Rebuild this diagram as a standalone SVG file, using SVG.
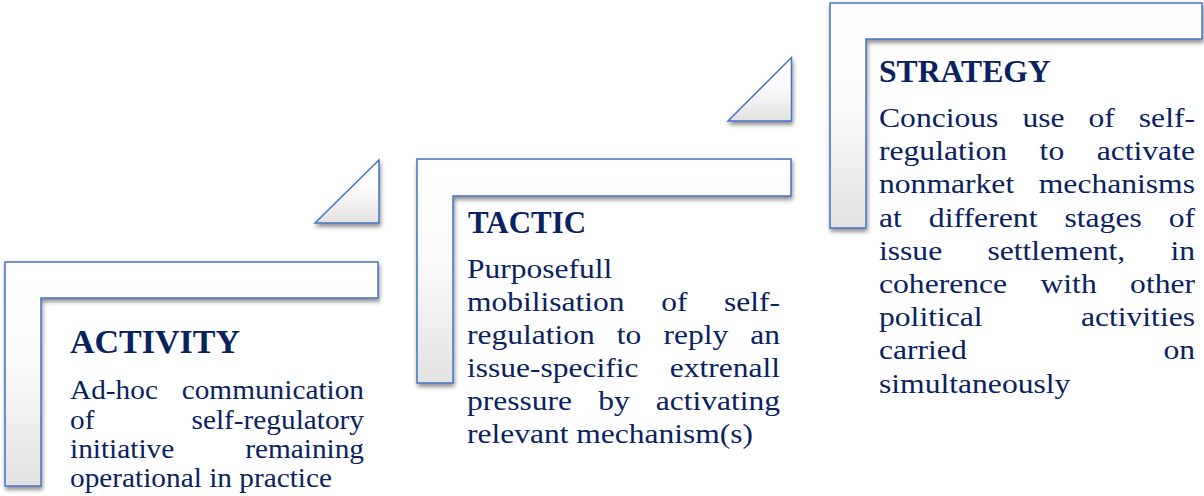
<svg xmlns="http://www.w3.org/2000/svg" width="1204" height="496" viewBox="0 0 1204 496">
<style>
.shape{fill:url(#g);stroke:#4472c4;stroke-width:1.5;filter:url(#sh)}
.t{font-weight:bold;fill:#0a2260}
.b{fill:#0a2260;font-size:28px}
.ba{font-size:26.5px}
</style>
<defs>
<linearGradient id="g" x1="0" y1="0" x2="0" y2="1">
<stop offset="0" stop-color="#ffffff"/>
<stop offset="0.45" stop-color="#fbfbfb"/>
<stop offset="1" stop-color="#e2e2e2"/>
</linearGradient>
<filter id="sh" x="-10%" y="-10%" width="130%" height="130%">
<feDropShadow dx="1" dy="3" stdDeviation="2" flood-color="#000" flood-opacity="0.45"/>
</filter>
</defs>
<rect width="1204" height="496" fill="#ffffff"/>
<g id="connectors">
<polygon class="shape" points="315,223 379,160 379,223"/>
<polygon class="shape" points="728,121 791.5,57.5 791.5,121"/>
</g>
<g font-family="'Liberation Serif', 'Times New Roman', serif">
<g id="activity">
<path class="shape" d="M5,262 H378 V298 H41 V486 H5 Z"/>
<text class="t" x="70" y="352.5" font-size="34" textLength="170" lengthAdjust="spacingAndGlyphs">ACTIVITY</text>
<g class="b ba">
<text x="70" y="399" textLength="87.9" lengthAdjust="spacingAndGlyphs">Ad-hoc</text>
<text x="181.7" y="399" textLength="182.3" lengthAdjust="spacingAndGlyphs">communication</text>
<text x="70" y="428.5" textLength="24.4" lengthAdjust="spacingAndGlyphs">of</text>
<text x="191.5" y="428.5" textLength="172.5" lengthAdjust="spacingAndGlyphs">self-regulatory</text>
<text x="70" y="458" textLength="104.2" lengthAdjust="spacingAndGlyphs">initiative</text>
<text x="245.2" y="458" textLength="118.8" lengthAdjust="spacingAndGlyphs">remaining</text>
<text x="70" y="487" textLength="262" lengthAdjust="spacingAndGlyphs">operational in practice</text>
</g>
</g>
<g id="tactic">
<path class="shape" d="M417,159 H791 V196 H453 V383 H417 Z"/>
<text class="t" x="468" y="232.7" font-size="32" textLength="118" lengthAdjust="spacingAndGlyphs">TACTIC</text>
<g class="b">
<text x="467" y="278" textLength="145.2" lengthAdjust="spacingAndGlyphs">Purposefull</text>
<text x="467" y="311" textLength="157.5" lengthAdjust="spacingAndGlyphs">mobilisation</text>
<text x="661.2" y="311" textLength="26.2" lengthAdjust="spacingAndGlyphs">of</text>
<text x="724" y="311" textLength="56" lengthAdjust="spacingAndGlyphs">self-</text>
<text x="467" y="344" textLength="127.7" lengthAdjust="spacingAndGlyphs">regulation</text>
<text x="616.8" y="344" textLength="24.5" lengthAdjust="spacingAndGlyphs">to</text>
<text x="663.5" y="344" textLength="64.7" lengthAdjust="spacingAndGlyphs">reply</text>
<text x="750.3" y="344" textLength="29.7" lengthAdjust="spacingAndGlyphs">an</text>
<text x="467" y="377" textLength="171.5" lengthAdjust="spacingAndGlyphs">issue-specific</text>
<text x="669.8" y="377" textLength="110.2" lengthAdjust="spacingAndGlyphs">extrenall</text>
<text x="467" y="410" textLength="105" lengthAdjust="spacingAndGlyphs">pressure</text>
<text x="598.2" y="410" textLength="31.5" lengthAdjust="spacingAndGlyphs">by</text>
<text x="655.8" y="410" textLength="124.2" lengthAdjust="spacingAndGlyphs">activating</text>
<text x="467" y="443" textLength="286.1" lengthAdjust="spacingAndGlyphs">relevant mechanism(s)</text>
</g>
</g>
<g id="strategy">
<path class="shape" d="M830,3 H1202 V39 H866 V228 H830 Z"/>
<text class="t" x="879" y="81.7" font-size="31" textLength="171.7" lengthAdjust="spacingAndGlyphs">STRATEGY</text>
<g class="b">
<text x="879" y="127" textLength="119.4" lengthAdjust="spacingAndGlyphs">Concious</text>
<text x="1022.4" y="127" textLength="42.1" lengthAdjust="spacingAndGlyphs">use</text>
<text x="1088.5" y="127" textLength="26.3" lengthAdjust="spacingAndGlyphs">of</text>
<text x="1138.8" y="127" textLength="56.2" lengthAdjust="spacingAndGlyphs">self-</text>
<text x="879" y="160.2" textLength="128.1" lengthAdjust="spacingAndGlyphs">regulation</text>
<text x="1039.6" y="160.2" textLength="24.6" lengthAdjust="spacingAndGlyphs">to</text>
<text x="1096.7" y="160.2" textLength="98.3" lengthAdjust="spacingAndGlyphs">activate</text>
<text x="879" y="193.4" textLength="135.2" lengthAdjust="spacingAndGlyphs">nonmarket</text>
<text x="1038.8" y="193.4" textLength="156.2" lengthAdjust="spacingAndGlyphs">mechanisms</text>
<text x="879" y="226.6" textLength="22.8" lengthAdjust="spacingAndGlyphs">at</text>
<text x="928.8" y="226.6" textLength="108.8" lengthAdjust="spacingAndGlyphs">different</text>
<text x="1064.5" y="226.6" textLength="77.2" lengthAdjust="spacingAndGlyphs">stages</text>
<text x="1168.7" y="226.6" textLength="26.3" lengthAdjust="spacingAndGlyphs">of</text>
<text x="879" y="259.8" textLength="63.2" lengthAdjust="spacingAndGlyphs">issue</text>
<text x="987.4" y="259.8" textLength="137.8" lengthAdjust="spacingAndGlyphs">settlement,</text>
<text x="1170.4" y="259.8" textLength="24.6" lengthAdjust="spacingAndGlyphs">in</text>
<text x="879" y="293" textLength="128.1" lengthAdjust="spacingAndGlyphs">coherence</text>
<text x="1040.5" y="293" textLength="56.2" lengthAdjust="spacingAndGlyphs">with</text>
<text x="1130.1" y="293" textLength="64.9" lengthAdjust="spacingAndGlyphs">other</text>
<text x="879" y="326.2" textLength="103.6" lengthAdjust="spacingAndGlyphs">political</text>
<text x="1080.9" y="326.2" textLength="114.1" lengthAdjust="spacingAndGlyphs">activities</text>
<text x="879" y="359.4" textLength="87.7" lengthAdjust="spacingAndGlyphs">carried</text>
<text x="1163.4" y="359.4" textLength="31.6" lengthAdjust="spacingAndGlyphs">on</text>
<text x="879" y="392.6" textLength="191.4" lengthAdjust="spacingAndGlyphs">simultaneously</text>
</g>
</g>
</g>
</svg>
